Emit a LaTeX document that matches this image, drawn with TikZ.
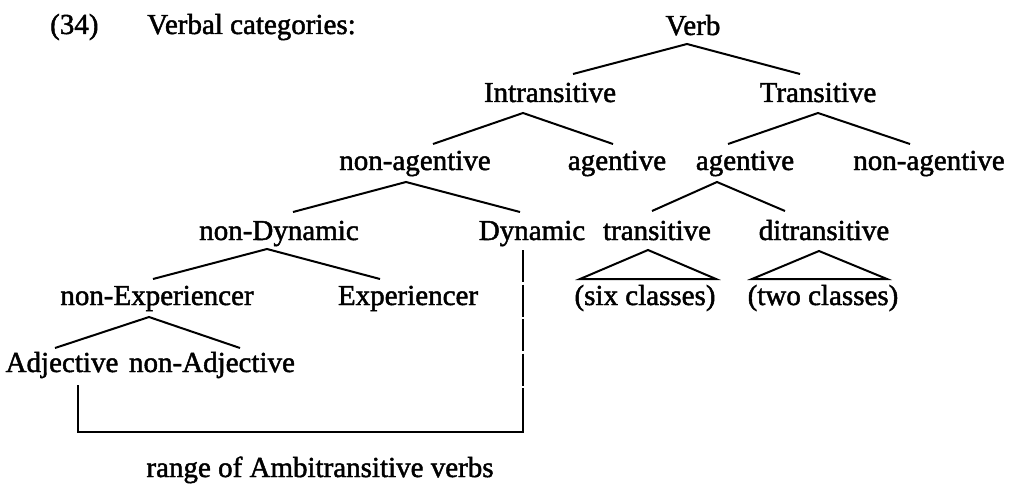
\documentclass[tikz,border=0pt]{standalone}
\usepackage{fontspec}
\setmainfont{Liberation Serif}[FakeBold=1.6]
\usetikzlibrary{calc}
\begin{document}
\begin{tikzpicture}[x=1pt,y=-1pt,
  font=\fontsize{29}{34}\selectfont,
  lbl/.style={inner sep=0pt,anchor=base},
  branch/.style={line width=2pt,line join=miter},
  rangeline/.style={line width=2pt}]
\useasboundingbox (0,0) rectangle (1011,484);

% heading
\node[lbl,anchor=base west] (num) at (50,34) {(34)};
\node[lbl,anchor=base west] (title) at (147,34) {Verbal categories:};

% category labels, placed by baseline
\node[lbl] (verb)  at (693,35)  {Verb};
\node[lbl] (intr)  at (550,102) {Intransitive};
\node[lbl] (trans) at (818,102) {Transitive};
\node[lbl] (naga)  at (415,170) {non-agentive};
\node[lbl] (aga)   at (617,170) {agentive};
\node[lbl] (agb)   at (745,170) {agentive};
\node[lbl] (nagb)  at (929,170) {non-agentive};
\node[lbl] (ndyn)  at (279,240) {non-Dynamic};
\node[lbl] (dyn)   at (532,240) {Dynamic};
\node[lbl] (trs)   at (657,240) {transitive};
\node[lbl] (ditr)  at (824,240) {ditransitive};
\node[lbl] (nexp)  at (157,305) {non-Experiencer};
\node[lbl] (exp)   at (408,305) {Experiencer};
\node[lbl] (six)   at (645,305) {(six classes)};
\node[lbl] (two)   at (823,305) {(two classes)};
\node[lbl] (adj)   at (62,372)  {Adjective};
\node[lbl] (nadj)  at (212,372) {non-Adjective};
\node[lbl] (range) at (320,477) {range of Ambitransitive verbs};

% branches
\draw[branch] ($(intr.base)+(23,-28)$) -- ($(verb.base)+(-6,9)$) -- ($(trans.base)+(-18,-28)$);
\draw[branch] ($(naga.base)+(18,-26)$) -- ($(intr.base)+(-27,11)$) -- ($(aga.base)+(-4,-26)$);
\draw[branch] ($(agb.base)+(-17,-26)$) -- ($(trans.base)+(0,11)$) -- ($(nagb.base)+(-19,-26)$);
\draw[branch] ($(ndyn.base)+(14,-28)$) -- ($(naga.base)+(-9,12)$) -- ($(dyn.base)+(-12,-28)$);
\draw[branch] ($(trs.base)+(-5,-29)$) -- ($(agb.base)+(-28,12)$) -- ($(ditr.base)+(-39,-29)$);
\draw[branch] ($(nexp.base)+(-4,-26)$) -- ($(ndyn.base)+(-12,9)$) -- ($(exp.base)+(-28,-26)$);
\draw[branch] ($(adj.base)+(-7,-24)$) -- ($(nexp.base)+(-8,12)$) -- ($(nadj.base)+(28,-24)$);

% collapsed subtrees
\draw[branch] ($(six.base)+(-65,-26)$) -- ($(trs.base)+(-9,10)$) -- ($(six.base)+(71,-26)$) -- cycle;
\draw[branch] ($(two.base)+(-71,-26)$) -- ($(ditr.base)+(-5,11)$) -- ($(two.base)+(64,-26)$) -- cycle;

% bracket marking the ambitransitive range
\coordinate (dtop) at ($(dyn.base)+(-9,10)$);
\coordinate (dmid) at ($(dyn.base)+(-9,148)$);
\coordinate (brR)  at ($(dyn.base)+(-9,192)$);
\coordinate (brL)  at (78,432);
\coordinate (adjl) at ($(adj.base)+(16,13)$);
\draw[rangeline,dash pattern=on 32pt off 2.5pt] (dtop) -- (dmid);
\draw[rangeline] (dmid) -- (brR) -- (brL) -- (adjl);
\end{tikzpicture}
\end{document}
